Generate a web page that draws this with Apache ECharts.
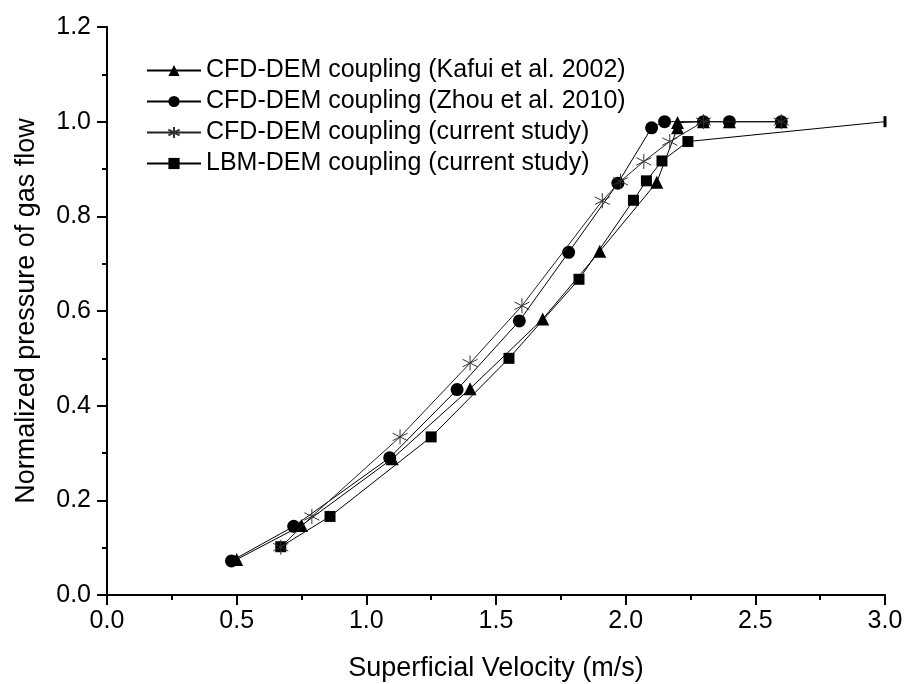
<!DOCTYPE html>
<html>
<head>
<meta charset="utf-8">
<script src="https://cdn.jsdelivr.net/npm/echarts@6/dist/echarts.min.js"></script>
<style>
  html, body { margin: 0; padding: 0; background: #fff; }
  #chart { width: 906px; height: 684px; }
</style>
</head>
<body>
<div id="chart"></div>
<script>
  // series names
  const seriesNames = [
    'CFD-DEM coupling (Kafui et al. 2002)',
    'CFD-DEM coupling (Zhou et al. 2010)',
    'CFD-DEM coupling (current study)',
    'LBM-DEM coupling (current study)'
  ]

  // [velocity, normalized pressure]
  const kafui = [
    [0.50, 0.075], [0.75, 0.147], [1.10, 0.288], [1.40, 0.436], [1.68, 0.583],
    [1.90, 0.726], [2.12, 0.872], [2.20, 0.987], [2.20, 0.998], [2.30, 1.0],
    [2.40, 1.0], [2.60, 1.0]
  ]
  const zhou = [
    [0.48, 0.072], [0.72, 0.145], [1.09, 0.290], [1.35, 0.434], [1.59, 0.579],
    [1.78, 0.724], [1.97, 0.870], [2.10, 0.987], [2.15, 1.0], [2.30, 1.0],
    [2.40, 1.0], [2.60, 1.0]
  ]
  const cfdCurrent = [
    [0.67, 0.101], [0.79, 0.166], [1.13, 0.334], [1.40, 0.490], [1.60, 0.611],
    [1.91, 0.833], [1.98, 0.874], [2.07, 0.916], [2.17, 0.958], [2.30, 1.0],
    [2.60, 1.0]
  ]
  const lbmCurrent = [
    [0.67, 0.102], [0.86, 0.166], [1.25, 0.334], [1.55, 0.500], [1.82, 0.667],
    [2.03, 0.834], [2.08, 0.875], [2.14, 0.917], [2.24, 0.958], [3.00, 1.0]
  ]

  const FONT = '"Liberation Sans", Arial, sans-serif'
  const asterisk = 'path://M0,-10L0,10M-8.66,-5L8.66,5M-8.66,5L8.66,-5'

  const chart = echarts.init(document.getElementById('chart'))

  const lbmData = lbmCurrent.map(function (p, i) {
    // last point drawn as a thin bar, as in the original plot
    if (i === lbmCurrent.length - 1) {
      return { value: p, symbol: 'rect', symbolSize: [3, 11] }
    }
    return p
  })

  const axisCommon = {
    axisLine: { show: true, lineStyle: { color: '#000', width: 2 } },
    axisTick: { show: true, length: 10, lineStyle: { color: '#000', width: 2 } },
    minorTick: { show: true, splitNumber: 2, length: 5, lineStyle: { color: '#000', width: 2 } },
    splitLine: { show: false }
  }

  chart.setOption({
    animation: false,
    backgroundColor: '#fff',
    textStyle: { fontFamily: FONT },
    grid: { left: 107, right: 21, top: 27, bottom: 89, outerBoundsMode: 'none' },
    legend: {
      orient: 'vertical',
      left: 141,
      top: 53,
      itemWidth: 54,
      itemHeight: 14,
      itemGap: 6,
      textStyle: { fontFamily: FONT, fontSize: 25, color: '#000', lineHeight: 25 },
      data: seriesNames
    },
    xAxis: Object.assign({
      type: 'value',
      min: 0,
      max: 3,
      interval: 0.5,
      name: 'Superficial Velocity (m/s)',
      nameLocation: 'middle',
      nameGap: 60,
      nameTextStyle: { fontFamily: FONT, fontSize: 27, color: '#000' },
      axisLabel: {
        fontFamily: FONT, fontSize: 25, color: '#000', margin: 14,
        formatter: function (v) { return v.toFixed(1) }
      }
    }, axisCommon),
    yAxis: Object.assign({
      type: 'value',
      min: 0,
      max: 1.2,
      interval: 0.2,
      name: 'Normalized pressure of gas flow',
      nameLocation: 'middle',
      nameGap: 67,
      nameRotate: 90,
      nameTextStyle: { fontFamily: FONT, fontSize: 27, color: '#000' },
      axisLabel: {
        fontFamily: FONT, fontSize: 25, color: '#000', margin: 16,
        formatter: function (v) { return v.toFixed(1) }
      }
    }, axisCommon),
    series: [
      {
        name: seriesNames[0],
        type: 'line',
        data: kafui,
        symbol: 'triangle',
        symbolSize: 13,
        lineStyle: { color: '#000', width: 1 },
        itemStyle: { color: '#000' },
        z: 4
      }, {
        name: seriesNames[1],
        type: 'line',
        data: zhou,
        symbol: 'circle',
        symbolSize: 13,
        lineStyle: { color: '#000', width: 1 },
        itemStyle: { color: '#000' },
        z: 3
      }, {
        name: seriesNames[2],
        type: 'line',
        data: cfdCurrent,
        symbol: asterisk,
        symbolSize: 15,
        lineStyle: { color: '#222', width: 1 },
        itemStyle: { color: 'none', borderColor: '#333', borderWidth: 1 },
        z: 5
      }, {
        name: seriesNames[3],
        type: 'line',
        data: lbmData,
        symbol: 'rect',
        symbolSize: 11,
        clip: false,
        lineStyle: { color: '#000', width: 1 },
        itemStyle: { color: '#000' },
        z: 2
      }
    ]
  })
</script>
</body>
</html>
